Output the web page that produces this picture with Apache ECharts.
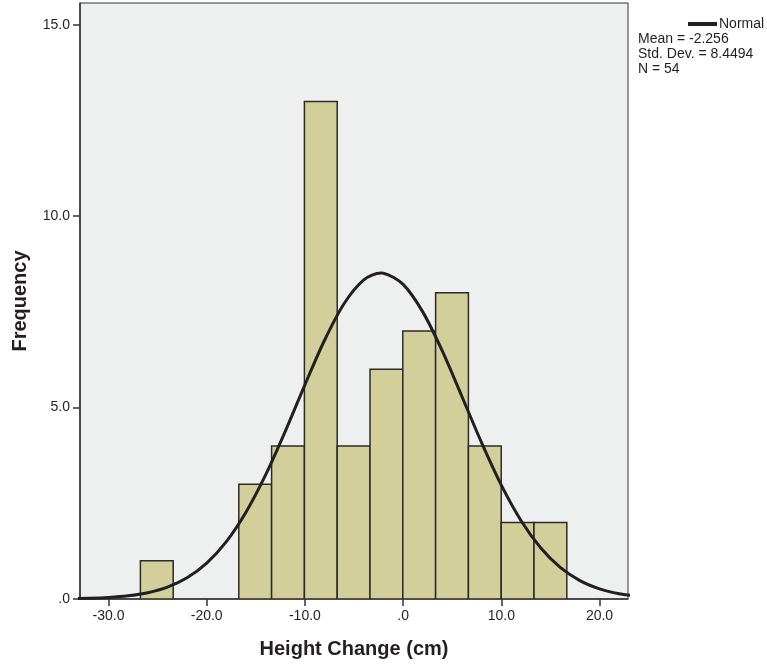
<!DOCTYPE html>
<html>
<head>
<meta charset="utf-8">
<script src="https://cdn.jsdelivr.net/npm/echarts@6/dist/echarts.min.js"></script>
<style>
html,body{margin:0;padding:0;background:#fff;}
#c{width:767px;height:667px;}
</style>
</head>
<body>
<div id="c"></div>
<script>
// Histogram bin edges (cm) and counts
var binEdges = [-26.75, -23.41, -20.07, -16.73, -13.39, -10.05, -6.71, -3.37, -0.03, 3.31, 6.65, 9.99, 13.33, 16.67];
var counts = [1, 0, 0, 3, 4, 13, 4, 6, 7, 8, 4, 2, 2];
// Normal curve points (x, frequency)
var curveX = [-34, -32, -30, -28, -26, -24, -22, -20, -18, -16, -14, -12, -10, -8, -6, -4, -2.256, -2, 0, 2, 4, 6, 8, 10, 12, 14, 16, 18, 20, 22, 24];
var curveY = [0.0073, 0.0174, 0.0388, 0.0821, 0.164, 0.311, 0.556, 0.939, 1.501, 2.269, 3.242, 4.380, 5.596, 6.759, 7.720, 8.337, 8.516, 8.512, 8.219, 7.501, 6.475, 5.284, 4.077, 2.974, 2.051, 1.338, 0.825, 0.481, 0.265, 0.138, 0.068];
var xTicks = [-30, -20, -10, 0, 10, 20];
var yTicks = [0, 5, 10, 15];
var statLines = ['Mean = -2.256', 'Std. Dev. = 8.4494', 'N = 54'];

var FONT = 'Liberation Sans, Arial, sans-serif';
var ink = '#231F20';

var barData = [];
for (var i = 0; i < counts.length; i++) {
  if (counts[i] > 0) barData.push([binEdges[i], binEdges[i + 1], counts[i]]);
}
var lineData = curveX.map(function (x, i) { return [x, curveY[i]]; });

function fmt(v) {
  if (v === 0) return '.0';
  return v.toFixed(1);
}

var chart = echarts.init(document.getElementById('c'), null, {renderer: 'canvas'});
chart.setOption({
  animation: false,
  backgroundColor: '#ffffff',
  textStyle: {fontFamily: FONT},
  grid: {
    left: 80, right: 139, top: 3, bottom: 68,
    show: true, backgroundColor: '#EEF0F0', borderColor: '#333333', borderWidth: 1
  },
  legend: {
    data: ['Normal'],
    left: 688, top: 17, padding: 0,
    icon: 'rect', itemWidth: 29, itemHeight: 4, itemGap: 0,
    textStyle: {fontFamily: FONT, fontSize: 14, color: ink, padding: [0, 0, 0, -3]},
    selectedMode: false
  },
  graphic: statLines.map(function (t, i) {
    return {
      type: 'text', left: 638, top: 32 + i * 15,
      style: {text: t, font: '14px ' + FONT, fill: ink}
    };
  }),
  xAxis: {
    type: 'value', min: -32.9, max: 22.9,
    name: 'Height Change (cm)', nameLocation: 'middle', nameGap: 40,
    nameTextStyle: {fontFamily: FONT, fontSize: 20, fontWeight: 'bold', color: ink},
    axisLine: {show: true, onZero: false, lineStyle: {color: '#333', width: 1.5}},
    axisTick: {show: true, customValues: xTicks, length: 7, lineStyle: {color: '#333', width: 1.5}},
    axisLabel: {customValues: xTicks, formatter: fmt, fontSize: 14, color: ink, margin: 10, fontFamily: FONT},
    splitLine: {show: false}
  },
  yAxis: {
    type: 'value', min: 0, max: 15.57,
    name: 'Frequency', nameLocation: 'middle', nameGap: 50,
    nameTextStyle: {fontFamily: FONT, fontSize: 20, fontWeight: 'bold', color: ink},
    axisLine: {show: true, onZero: false, lineStyle: {color: '#333', width: 1.5}},
    axisTick: {show: true, customValues: yTicks, length: 7, lineStyle: {color: '#333', width: 1.5}},
    axisLabel: {customValues: yTicks, formatter: fmt, fontSize: 14, color: ink, margin: 10, fontFamily: FONT},
    splitLine: {show: false}
  },
  series: [
    {
      type: 'custom',
      name: 'bins',
      clip: true,
      data: barData,
      encode: {x: [0, 1], y: 2},
      renderItem: function (params, api) {
        var p0 = api.coord([api.value(0), api.value(2)]);
        var p1 = api.coord([api.value(1), 0]);
        return {
          type: 'rect',
          shape: {x: p0[0], y: p0[1], width: p1[0] - p0[0], height: p1[1] - p0[1]},
          style: {fill: '#D3CF9A', stroke: '#2b2b2b', lineWidth: 1.5}
        };
      }
    },
    {
      type: 'line',
      name: 'Normal',
      data: lineData,
      smooth: 0.3,
      showSymbol: false,
      clip: true,
      lineStyle: {color: ink, width: 3},
      itemStyle: {color: ink},
      z: 5
    }
  ]
});
</script>
</body>
</html>
